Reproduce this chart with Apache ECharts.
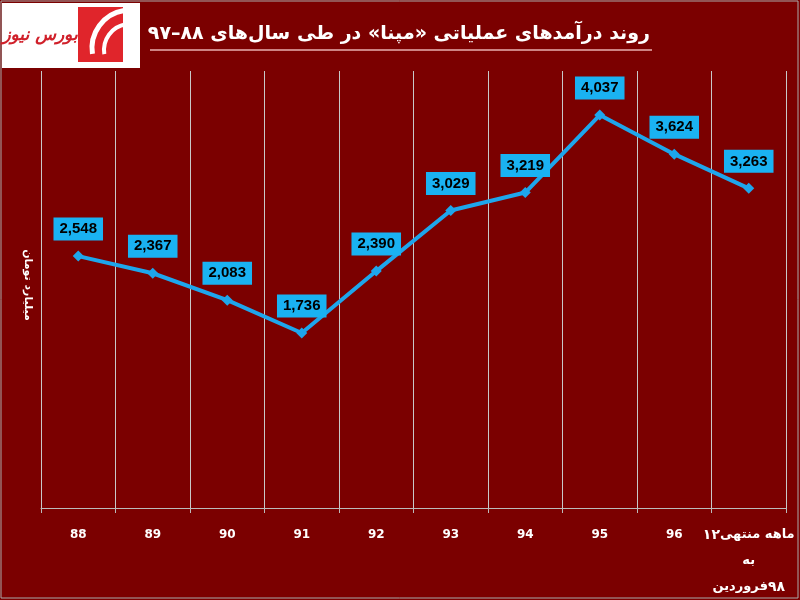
<!DOCTYPE html>
<html><head><meta charset="utf-8">
<script src="https://cdn.jsdelivr.net/npm/echarts@6/dist/echarts.min.js"></script>
<style>html,body{margin:0;padding:0;background:#7b0000}#c{width:800px;height:600px}</style>
</head><body><div id="c"></div>
<script>
const categories = ['88','89','90','91','92','93','94','95','96','۱۲ماهه منتهی به فروردین۹۸'];
const lastLabelParts = [['d','۱۲'],['t','ماهه منتهی'],['n','\n'],['t','به'],['n','\n'],['t','فروردین'],['d','۹۸']];
const revenue = [2548,2367,2083,1736,2390,3029,3219,4037,3624,3263];
const title = '\u202Bروند درآمدهای عملیاتی «مپنا» در طی سال‌های ۸۸–۹۷\u202C';
const yName = 'میلیارد تومان';

const chart = echarts.init(document.getElementById('c'));
const lbl = {color:'#fff',fontWeight:'bold',fontSize:13,lineHeight:26,fontFamily:'DejaVu Sans'};
chart.setOption({
  backgroundColor:'#7b0000',
  animation:false,
  graphic:[
    {type:'rect',shape:{x:1,y:1,width:797,height:597},style:{fill:'none',stroke:'#aaa',lineWidth:1}},
    {type:'rect',shape:{x:2,y:3,width:138,height:65},style:{fill:'#fff'}},
    {type:'rect',shape:{x:78,y:7,width:45,height:55},style:{fill:'#e0252b'}},
    {type:'arc',shape:{cx:130,cy:48,r:38,startAngle:Math.PI*0.95,endAngle:Math.PI*1.55},style:{stroke:'#fff',lineWidth:5,fill:'none'}},
    {type:'arc',shape:{cx:130,cy:50,r:26,startAngle:Math.PI*0.95,endAngle:Math.PI*1.55},style:{stroke:'#fff',lineWidth:4,fill:'none'}},
    {type:'text',style:{x:40,y:36,text:'بورس نیوز',fill:'#d0202a',font:'italic bold 17px "DejaVu Sans"',align:'center',verticalAlign:'middle'}},
    {type:'text',style:{x:650,y:34,text:title,fill:'#fff',font:'bold 19px "DejaVu Sans"',align:'right',verticalAlign:'middle'}},
    {type:'line',shape:{x1:150,y1:50,x2:652,y2:50},style:{stroke:'#e8b0b0',lineWidth:1.5}},
    {type:'text',rotation:-Math.PI/2,x:28,y:285,style:{text:yName,fill:'#fff',font:'bold 11px "DejaVu Sans"',align:'center',verticalAlign:'middle'}}
  ],
  grid:{left:41,right:14,top:71,bottom:92},
  xAxis:{type:'category',data:categories,boundaryGap:true,
    axisLine:{onZero:false,lineStyle:{color:'#bbb'}},axisTick:{show:true,length:5,lineStyle:{color:'#bbb'}},
    axisLabel:{color:'#fff',fontWeight:'bold',fontSize:12,margin:14,lineHeight:26,fontFamily:'DejaVu Sans',interval:0,
      formatter:(v,i)=> i===categories.length-1 ? lastLabelParts.map(([s,t])=> s==='n' ? '\n' : '{'+s+'|'+t+'}').join('') : v,
      rich:{t:lbl,d:Object.assign({},lbl,{fontSize:14})}},
    splitLine:{show:true,interval:0,lineStyle:{color:'#c8c8c8',width:1}}},
  yAxis:{type:'value',min:-111,max:4502,axisLabel:{show:false},axisLine:{show:false},axisTick:{show:false},splitLine:{show:false}},
  series:[{type:'line',data:revenue,symbol:'diamond',symbolSize:11,
    lineStyle:{color:'#1ea6ec',width:4},itemStyle:{color:'#1ea6ec'},
    label:{show:true,position:'top',distance:10,backgroundColor:'#1ab2f2',
      padding:[4,6],color:'#000',fontSize:15,fontWeight:'bold',fontFamily:'Liberation Sans',
      formatter:p=>p.value.toLocaleString('en-US')}}]
});
</script></body></html>
